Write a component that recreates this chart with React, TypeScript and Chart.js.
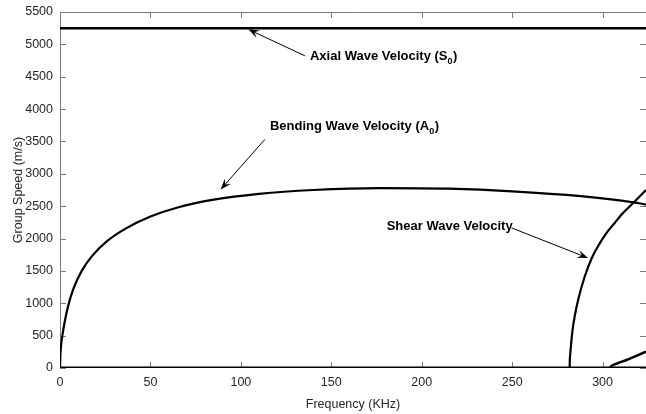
import React, { useEffect, useRef } from "react";
import { Chart, registerables } from "chart.js";

Chart.register(...registerables);

// ---- data ----
const bendingFreq = [0, 0.2, 0.6, 1.3, 2.5, 4.5, 7.5, 12, 18, 26, 36, 50, 65, 85, 110, 140, 177, 215, 250, 288, 317, 324];
const bendingSpeed = [0, 200, 350, 500, 700, 960, 1230, 1500, 1740, 1960, 2150, 2340, 2480, 2600, 2690, 2750, 2780, 2770, 2730, 2655, 2560, 2525];

const shearFreq = [281.8, 281.85, 282.0, 282.3, 283.4, 284.8, 286.5, 289.9, 294.1, 298, 302.2, 306.8, 311.4, 317.9, 324];
const shearSpeed = [0, 100, 175, 279, 589, 830, 1053, 1394, 1704, 1906, 2087, 2245, 2397, 2577, 2750];

const thirdFreq = [304.2, 304.5, 305.5, 308, 313.2, 318, 324];
const thirdSpeed = [0, 20, 40, 70, 124, 180, 252];

const axialFreq = [0, 324];
const axialSpeed = [5250, 5250];

const zeroFreq = [0, 324];
const zeroSpeed = [0, 0];

const xTicks = [0, 50, 100, 150, 200, 250, 300];
const yTicks = [0, 500, 1000, 1500, 2000, 2500, 3000, 3500, 4000, 4500, 5000, 5500];

// annotations: [main text, subscript, label x, label y, arrow from x, y, arrow to x, y]
const annotations: [string, string, number, number, number, number, number, number][] = [
  ["Axial Wave Velocity (S", "0", 138.2, 4818, 135.4, 4823, 104.1, 5232],
  ["Bending Wave Velocity (A", "0", 116.1, 3738, 113.3, 3532, 88.8, 2758],
  ["Shear Wave Velocity", "", 180.6, 2189, 249.7, 2164, 292, 1699],
];

const FONT = "'Liberation Sans', Arial, Helvetica, sans-serif";
const AXIS_COLOR = "#7a7a7a";
const TEXT_COLOR = "#262626";

const toPts = (xs: number[], ys: number[]) => xs.map((x, i) => ({ x, y: ys[i] }));

const framePlugin = {
  id: "frame",
  beforeDatasetsDraw(chart: any) {
    const { ctx, chartArea } = chart;
    const { left, right, top, bottom } = chartArea;
    const xs = chart.scales.x;
    const ys = chart.scales.y;
    ctx.save();
    ctx.strokeStyle = AXIS_COLOR;
    ctx.lineWidth = 1;
    ctx.beginPath();
    ctx.moveTo(left + 0.5, bottom);
    ctx.lineTo(left + 0.5, top + 0.5);
    ctx.lineTo(right, top + 0.5);
    ctx.moveTo(left, bottom - 0.5);
    ctx.lineTo(right, bottom - 0.5);
    const tl = 6;
    xTicks.forEach((v) => {
      const px = Math.round(xs.getPixelForValue(v)) + 0.5;
      ctx.moveTo(px, bottom);
      ctx.lineTo(px, bottom - tl);
      ctx.moveTo(px, top);
      ctx.lineTo(px, top + tl);
    });
    yTicks.forEach((v) => {
      const py = Math.round(ys.getPixelForValue(v)) + 0.5;
      ctx.moveTo(left, py);
      ctx.lineTo(left + tl, py);
      ctx.moveTo(right, py);
      ctx.lineTo(right - tl, py);
    });
    ctx.stroke();
    ctx.restore();
  },
  afterDraw(chart: any) {
    const { ctx } = chart;
    const xs = chart.scales.x;
    const ys = chart.scales.y;
    ctx.save();
    annotations.forEach(([text, sub, lx, ly, ax0, ay0, ax1, ay1]) => {
      const px = xs.getPixelForValue(lx);
      const py = ys.getPixelForValue(ly);
      ctx.fillStyle = "#000";
      ctx.textBaseline = "middle";
      ctx.textAlign = "left";
      ctx.font = `bold 13px ${FONT}`;
      ctx.fillText(text, px, py);
      const w = ctx.measureText(text).width;
      if (sub) {
        ctx.font = `bold 9px ${FONT}`;
        ctx.fillText(sub, px + w, py + 5);
        const sw = ctx.measureText(sub).width;
        ctx.font = `bold 13px ${FONT}`;
        ctx.fillText(")", px + w + sw + 0.5, py);
      }
      const x0 = xs.getPixelForValue(ax0);
      const y0 = ys.getPixelForValue(ay0);
      const x1 = xs.getPixelForValue(ax1);
      const y1 = ys.getPixelForValue(ay1);
      const ang = Math.atan2(y1 - y0, x1 - x0);
      const hl = 11;
      const hw = 4;
      ctx.strokeStyle = "#000";
      ctx.lineWidth = 1;
      ctx.beginPath();
      ctx.moveTo(x0, y0);
      ctx.lineTo(x1 - Math.cos(ang) * 4, y1 - Math.sin(ang) * 4);
      ctx.stroke();
      const bx = x1 - Math.cos(ang) * hl;
      const by = y1 - Math.sin(ang) * hl;
      const nx = -Math.sin(ang);
      const ny = Math.cos(ang);
      const mx = x1 - Math.cos(ang) * hl * 0.6;
      const my = y1 - Math.sin(ang) * hl * 0.6;
      ctx.beginPath();
      ctx.moveTo(x1, y1);
      ctx.lineTo(bx + nx * hw, by + ny * hw);
      ctx.lineTo(mx, my);
      ctx.lineTo(bx - nx * hw, by - ny * hw);
      ctx.closePath();
      ctx.fillStyle = "#000";
      ctx.fill();
    });
    ctx.restore();
  },
};

export default function App() {
  const ref = useRef<HTMLCanvasElement | null>(null);
  useEffect(() => {
    if (!ref.current) return;
    const line = (xs: number[], ys: number[], w: number) => ({
      data: toPts(xs, ys),
      showLine: true,
      borderColor: "#000",
      backgroundColor: "#000",
      borderWidth: w,
      pointRadius: 0,
      cubicInterpolationMode: "monotone" as const,
    });
    const chart = new Chart(ref.current, {
      type: "scatter",
      data: {
        datasets: [
          line(axialFreq, axialSpeed, 2.5),
          line(bendingFreq, bendingSpeed, 2.2),
          line(shearFreq, shearSpeed, 2.2),
          line(thirdFreq, thirdSpeed, 2.5),
          line(zeroFreq, zeroSpeed, 3),
        ],
      },
      plugins: [framePlugin],
      options: {
        animation: false,
        responsive: false,
        events: [],
        layout: { padding: { top: 12, right: 0, left: 0, bottom: 0 } },
        plugins: { legend: { display: false }, tooltip: { enabled: false } },
        scales: {
          x: {
            type: "linear",
            min: 0,
            max: 324,
            grid: { display: false, drawTicks: false },
            border: { display: false },
            afterBuildTicks: (s: any) => {
              s.ticks = xTicks.map((v) => ({ value: v }));
            },
            afterFit: (s: any) => {
              s.height = 46;
              s.paddingLeft = 0;
              s.paddingRight = 0;
            },
            ticks: {
              padding: 7,
              color: TEXT_COLOR,
              font: { family: FONT, size: 12.5 },
              maxRotation: 0,
              callback: (v: any) => String(v),
            },
            title: {
              display: true,
              text: "Frequency (KHz)",
              color: TEXT_COLOR,
              font: { family: FONT, size: 12.5 },
              padding: { top: 0, bottom: 2 },
            },
          },
          y: {
            type: "linear",
            min: 0,
            max: 5500,
            grid: { display: false, drawTicks: false },
            border: { display: false },
            afterBuildTicks: (s: any) => {
              s.ticks = yTicks.map((v) => ({ value: v }));
            },
            afterFit: (s: any) => {
              s.width = 60;
              s.paddingTop = 0;
              s.paddingBottom = 0;
            },
            ticks: {
              padding: 7,
              color: TEXT_COLOR,
              font: { family: FONT, size: 12.5 },
              callback: (v: any) => String(v),
            },
            title: {
              display: true,
              text: "Group Speed (m/s)",
              color: TEXT_COLOR,
              font: { family: FONT, size: 12.5 },
              padding: { top: 11, bottom: 0 },
            },
          },
        },
      },
    });
    return () => chart.destroy();
  }, []);
  return (
    <div style={{ position: "fixed", left: 0, top: 0, width: 646, height: 414, background: "#fff" }}>
      <canvas ref={ref} width={646} height={414} style={{ width: 646, height: 414, display: "block" }} />
    </div>
  );
}
